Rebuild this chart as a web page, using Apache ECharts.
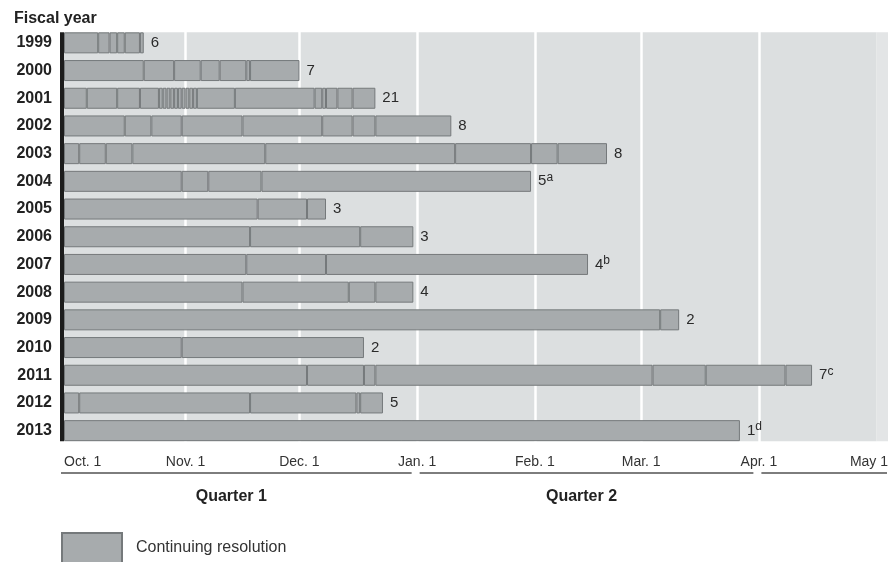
<!DOCTYPE html>
<html>
<head>
<meta charset="utf-8">
<script src="https://cdn.jsdelivr.net/npm/echarts@6/dist/echarts.min.js"></script>
<style>
html,body{margin:0;padding:0;background:#fff;}
#c{width:891px;height:562px;}
</style>
</head>
<body>
<div id="c"></div>
<script>
// ---- data ----
const fiscalYears = ['1999','2000','2001','2002','2003','2004','2005','2006','2007','2008','2009','2010','2011','2012','2013'];
// end day (days after Sept. 30) of each successive continuing resolution
const crEndDays = [
  [9, 12, 14, 16, 20, 21],
  [21, 29, 36, 41, 48, 49, 62],
  [6, 14, 20, 25, 26, 27, 28, 29, 30, 31, 32, 33, 34, 35, 45, 66, 68, 69, 72, 76, 82],
  [16, 23, 31, 47, 68, 76, 82, 102],
  [4, 11, 18, 53, 103, 123, 130, 143],
  [31, 38, 52, 123],
  [51, 64, 69],
  [49, 78, 92],
  [48, 69, 138],
  [47, 75, 82, 92],
  [157, 162],
  [31, 79],
  [64, 79, 82, 155, 169, 190, 197],
  [4, 49, 77, 78, 84],
  [178]
];
const crCounts = ['6','7','21','8','8','5','3','3','4','4','2','2','7','5','1'];
const crNotes  = ['','','','','','a','','','b','','','','c','','d'];
const monthTickDays  = [32, 62, 93, 124, 152, 183];
const monthLabelDays = [0, 32, 62, 93, 124, 152, 183, 217];
const monthLabels    = ['Oct. 1','Nov. 1','Dec. 1','Jan. 1','Feb. 1','Mar. 1','Apr. 1','May 1'];
const quarterBoundDays = [0, 93, 183, 217];
const quarterLabels = ['Quarter 1', 'Quarter 2'];
const legendLabel = 'Continuing resolution';
const axisTitle = 'Fiscal year';

// ---- chart ----
const FONT = '"Liberation Sans", Arial, Helvetica, sans-serif';
const BAR_W = 21;
const chart = echarts.init(document.getElementById('c'), null, {renderer: 'canvas'});

const maxSeg = Math.max.apply(null, crEndDays.map(a => a.length));
const series = [];
for (let s = 0; s < maxSeg; s++) {
  const data = crEndDays.map((ends, i) => {
    if (s >= ends.length) return '-';
    const v = ends[s] - (s ? ends[s - 1] : 0);
    if (s === ends.length - 1) {
      return {
        value: v,
        label: {
          show: true,
          formatter: '{n|' + crCounts[i] + '}' + (crNotes[i] ? '{s|' + crNotes[i] + '}' : '')
        }
      };
    }
    return v;
  });
  series.push({
    type: 'bar',
    name: legendLabel,
    stack: 'cr',
    barWidth: BAR_W,
    data: data,
    itemStyle: {color: '#a7abad', borderColor: '#75797b', borderWidth: 1},
    label: {
      show: false,
      position: 'right',
      distance: 7,
      rich: {
        n: {fontFamily: FONT, fontSize: 15, color: '#2a2a2a'},
        s: {fontFamily: FONT, fontSize: 12, color: '#2a2a2a', padding: [0, 0, 7, 0]}
      }
    },
    emphasis: {disabled: true},
    animation: false
  });
}

chart.setOption({
  animation: false,
  title: {
    text: axisTitle, left: 14, top: 11, padding: 0,
    textStyle: {fontFamily: FONT, fontSize: 16, fontWeight: 'bold', color: '#222'}
  },
  legend: {
    data: [legendLabel], left: 61, top: 532, padding: 0,
    itemWidth: 60, itemHeight: 30, icon: 'rect', selectedMode: false,
    textStyle: {fontFamily: FONT, fontSize: 16, color: '#333', padding: [0, 0, 0, 9]}
  },
  grid: {left: 64, top: 29, width: 824, height: 415.5, containLabel: false},
  xAxis: {
    type: 'value', min: 0, max: 217,
    axisLine: {show: false},
    axisTick: {show: false, customValues: monthTickDays},
    splitLine: {show: true, lineStyle: {color: '#ffffff', width: 2.5}},
    axisLabel: {
      customValues: monthLabelDays,
      formatter: v => monthLabels[monthLabelDays.indexOf(v)],
      alignMinLabel: 'left', alignMaxLabel: 'right',
      margin: 11,
      fontFamily: FONT, fontSize: 14, color: '#333'
    }
  },
  yAxis: {
    type: 'category', data: fiscalYears, inverse: true,
    axisLine: {show: false}, axisTick: {show: false},
    axisLabel: {margin: 12, fontFamily: FONT, fontSize: 16, fontWeight: 'bold', color: '#222'}
  },
  series: series
});

// ---- background, axis bar, quarter brackets ----
const px = d => chart.convertToPixel({xAxisIndex: 0}, d);
const py = c => chart.convertToPixel({yAxisIndex: 0}, c);
const yTop = py(fiscalYears[0]) - BAR_W / 2;
const yBot = py(fiscalYears[fiscalYears.length - 1]) + BAR_W / 2;
const x0 = px(0), xEdge = px(214), xEnd = px(217);
const elements = [
  {type: 'rect', z: -10, silent: true, shape: {x: x0, y: yTop, width: xEdge - x0, height: yBot - yTop}, style: {fill: '#dcdfe0'}},
  {type: 'rect', z: -10, silent: true, shape: {x: xEdge, y: yTop, width: xEnd - xEdge, height: yBot - yTop}, style: {fill: '#e3e5e6'}},
  {type: 'rect', z: 50, silent: true, shape: {x: x0 - 4, y: yTop, width: 4, height: yBot - yTop}, style: {fill: '#1c1c1c'}}
];
const nQ = quarterBoundDays.length - 1;
for (let q = 0; q < nQ; q++) {
  const a = px(quarterBoundDays[q]), b = px(quarterBoundDays[q + 1]);
  const xa = q === 0 ? a - 3 : a + 2.5;
  const xb = q === nQ - 1 ? b - 1 : b - 5.5;
  elements.push({type: 'line', silent: true, shape: {x1: xa, y1: 473, x2: xb, y2: 473}, style: {stroke: '#7d7d7d', lineWidth: 2}});
  if (quarterLabels[q]) {
    elements.push({type: 'text', silent: true, x: (xa + xb) / 2 - 5, y: 497,
      style: {text: quarterLabels[q], fontFamily: FONT, fontSize: 16, fontWeight: 'bold', fill: '#222', align: 'center', verticalAlign: 'middle'}});
  }
}
chart.setOption({graphic: {elements: elements}});
</script>
</body>
</html>
